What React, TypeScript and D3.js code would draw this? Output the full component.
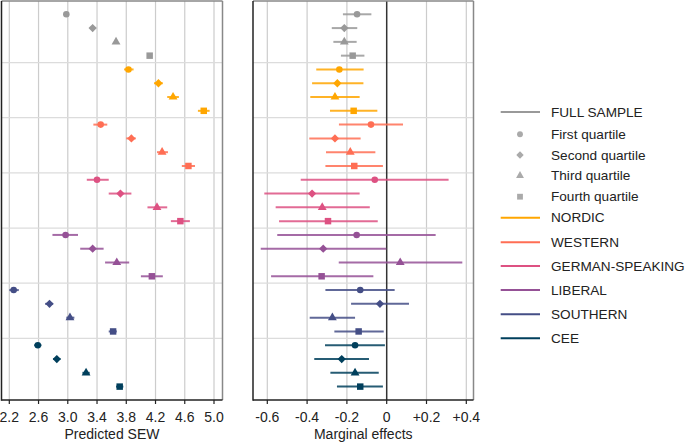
import React from "react";
import * as d3 from "d3";

const groups = ["FULL SAMPLE", "NORDIC", "WESTERN", "GERMAN-SPEAKING", "LIBERAL", "SOUTHERN", "CEE"];
const groupColors = ["#999999", "#ffa600", "#ff6e54", "#dd5182", "#955196", "#444e86", "#003f5c"];
const quartiles = ["First quartile", "Second quartile", "Third quartile", "Fourth quartile"];

// Predicted SEW: point estimates and CI bounds, per group x quartile
const predMean = [
  [2.98, 3.34, 3.66, 4.12],
  [3.83, 4.24, 4.44, 4.86],
  [3.45, 3.87, 4.29, 4.65],
  [3.40, 3.72, 4.22, 4.54],
  [2.97, 3.34, 3.67, 4.15],
  [2.26, 2.75, 3.03, 3.62],
  [2.59, 2.85, 3.25, 3.71],
];
const predLo = [
  [2.96, 3.32, 3.64, 4.10],
  [3.77, 4.18, 4.36, 4.78],
  [3.35, 3.80, 4.22, 4.56],
  [3.26, 3.56, 4.09, 4.41],
  [2.79, 3.17, 3.51, 4.00],
  [2.20, 2.69, 2.98, 3.56],
  [2.54, 2.80, 3.20, 3.66],
];
const predHi = [
  [3.00, 3.36, 3.68, 4.14],
  [3.90, 4.30, 4.52, 4.94],
  [3.54, 3.93, 4.37, 4.74],
  [3.56, 3.87, 4.36, 4.67],
  [3.14, 3.49, 3.84, 4.30],
  [2.33, 2.80, 3.09, 3.67],
  [2.64, 2.90, 3.30, 3.76],
];

// Marginal effects
const meMean = [
  [-0.149, -0.213, -0.213, -0.171],
  [-0.238, -0.248, -0.26, -0.166],
  [-0.079, -0.26, -0.183, -0.163],
  [-0.06, -0.375, -0.324, -0.295],
  [-0.151, -0.319, 0.068, -0.327],
  [-0.133, -0.034, -0.273, -0.141],
  [-0.159, -0.226, -0.159, -0.133],
];
const meLo = [
  [-0.22, -0.276, -0.268, -0.23],
  [-0.354, -0.375, -0.384, -0.285],
  [-0.24, -0.389, -0.305, -0.308],
  [-0.432, -0.615, -0.558, -0.541],
  [-0.55, -0.633, -0.241, -0.581],
  [-0.308, -0.179, -0.387, -0.263],
  [-0.31, -0.364, -0.283, -0.25],
];
const meHi = [
  [-0.077, -0.148, -0.151, -0.112],
  [-0.116, -0.117, -0.136, -0.047],
  [0.082, -0.131, -0.057, -0.019],
  [0.311, -0.136, -0.085, -0.045],
  [0.246, -0.002, 0.38, -0.067],
  [0.04, 0.112, -0.159, -0.015],
  [-0.009, -0.089, -0.04, -0.019],
];

const leftTicks = [2.2, 2.6, 3.0, 3.4, 3.8, 4.2, 4.6, 5.0];
const rightTicks = [-0.6, -0.4, -0.2, 0, 0.2, 0.4];

const FONT = "'Liberation Sans', Arial, Helvetica, sans-serif";

const symbolTypes = [d3.symbolCircle, (d3 as any).symbolDiamond2 || d3.symbolDiamond, d3.symbolTriangle, d3.symbolSquare];
const symbolSizes = [34, 44, 34, 42];
const symPath = (q: number, scale = 1) =>
  d3.symbol().type(symbolTypes[q] as any).size(symbolSizes[q] * scale)() as string;

export default function App() {
  const W = 685, H = 442;
  const top = 1, bottom = 400;
  const y = d3.scaleLinear().domain([0, 29]).range([0.5, 400.4]);
  const xL = d3.scaleLinear().domain([2.2, 5.0]).range([9.3, 214]);
  const xR = d3.scaleLinear().domain([-0.6, 0.4]).range([267.3, 466.3]);
  const L = { x0: 1.5, x1: 222.5 };
  const R = { x0: 253, x1: 473.5 };
  const sepRows = [4.5, 8.5, 12.5, 16.5, 20.5, 24.5];

  const rows: { g: number; q: number; p: number }[] = [];
  groups.forEach((_, g) => quartiles.forEach((_, q) => rows.push({ g, q, p: g * 4 + q + 1 })));

  const fmtR = (v: number) => (v === 0 ? "0" : v > 0 ? "+" + v.toFixed(1) : v.toFixed(1));

  const legendY = [112, 134.3, 155, 175.7, 196.7, 217.7, 242.3, 266, 290, 314.3, 338.3];

  const panel = (
    x: d3.ScaleLinear<number, number>,
    box: { x0: number; x1: number },
    ticks: number[],
    fmt: (v: number) => string,
    mean: number[][],
    lo: number[][],
    hi: number[][],
    title: string,
    zeroLine: boolean,
    ciW: number
  ) => (
    <g>
      {ticks.map((t) =>
        zeroLine && t === 0 ? null : (
          <line key={"vg" + t} x1={x(t)} x2={x(t)} y1={top} y2={bottom} stroke="#cccccc" strokeWidth={1.2} />
        )
      )}
      {sepRows.map((r) => (
        <line key={"hg" + r} x1={box.x0} x2={box.x1} y1={y(r)} y2={y(r)} stroke="#dcdcdc" strokeWidth={1.2} />
      ))}
      {zeroLine && <line x1={x(0)} x2={x(0)} y1={top} y2={bottom} stroke="#333333" strokeWidth={1.5} />}
      {rows.map(({ g, q, p }) => (
        <g key={`r${g}-${q}`}>
          <line
            x1={x(lo[g][q])}
            x2={x(hi[g][q])}
            y1={y(p)}
            y2={y(p)}
            stroke={groupColors[g]}
            strokeWidth={ciW}
            strokeOpacity={0.85}
          />
          <path d={symPath(q)} transform={`translate(${x(mean[g][q])},${y(p)})`} fill={groupColors[g]} />
        </g>
      ))}
      {/* frame: top & right gray, left & bottom dark */}
      <line x1={box.x0} x2={box.x1} y1={top} y2={top} stroke="#888888" strokeWidth={1.5} />
      <line x1={box.x1} x2={box.x1} y1={top} y2={bottom} stroke="#888888" strokeWidth={1.5} />
      <line x1={box.x0} x2={box.x0} y1={top} y2={bottom + 0.75} stroke="#222222" strokeWidth={1.5} />
      <line x1={box.x0} x2={box.x1} y1={bottom} y2={bottom} stroke="#222222" strokeWidth={1.5} />
      {ticks.map((t) => (
        <g key={"t" + t}>
          <line x1={x(t)} x2={x(t)} y1={bottom} y2={bottom + 4} stroke="#222222" strokeWidth={1.2} />
          <text x={x(t)} y={421.5} textAnchor="middle" fontSize={14} fontFamily={FONT} fill="#222">
            {fmt(t)}
          </text>
        </g>
      ))}
      <text x={(box.x0 + box.x1) / 2} y={439} textAnchor="middle" fontSize={14} fontFamily={FONT} fill="#222">
        {title}
      </text>
    </g>
  );

  return (
    <div style={{ position: "absolute", left: 0, top: 0, width: W, height: H, background: "#fff" }}>
      <svg width={W} height={H} style={{ display: "block" }}>
        <rect width={W} height={H} fill="#ffffff" />
        {panel(xL, L, leftTicks, (v) => v.toFixed(1), predMean, predLo, predHi, "Predicted SEW", false, 2)}
        {panel(xR, R, rightTicks, fmtR, meMean, meLo, meHi, "Marginal effects", true, 2)}
        <g>
          {/* legend */}
          <line x1={500.7} x2={540} y1={legendY[0]} y2={legendY[0]} stroke={groupColors[0]} strokeWidth={2} />
          <text x={551} y={legendY[0]} dy="0.35em" fontSize={13.6} fontFamily={FONT} fill="#222">
            {groups[0]}
          </text>
          {quartiles.map((qname, q) => (
            <g key={"lq" + q}>
              <path d={symPath(q, 0.8)} transform={`translate(520,${legendY[q + 1]})`} fill="#aaaaaa" />
              <text x={551} y={legendY[q + 1]} dy="0.35em" fontSize={13.6} fontFamily={FONT} fill="#222">
                {qname}
              </text>
            </g>
          ))}
          {groups.slice(1).map((gname, i) => (
            <g key={"lg" + i}>
              <line x1={500.7} x2={540} y1={legendY[i + 5]} y2={legendY[i + 5]} stroke={groupColors[i + 1]} strokeWidth={2} />
              <text x={551} y={legendY[i + 5]} dy="0.35em" fontSize={13.6} fontFamily={FONT} fill="#222">
                {gname}
              </text>
            </g>
          ))}
        </g>
      </svg>
    </div>
  );
}
